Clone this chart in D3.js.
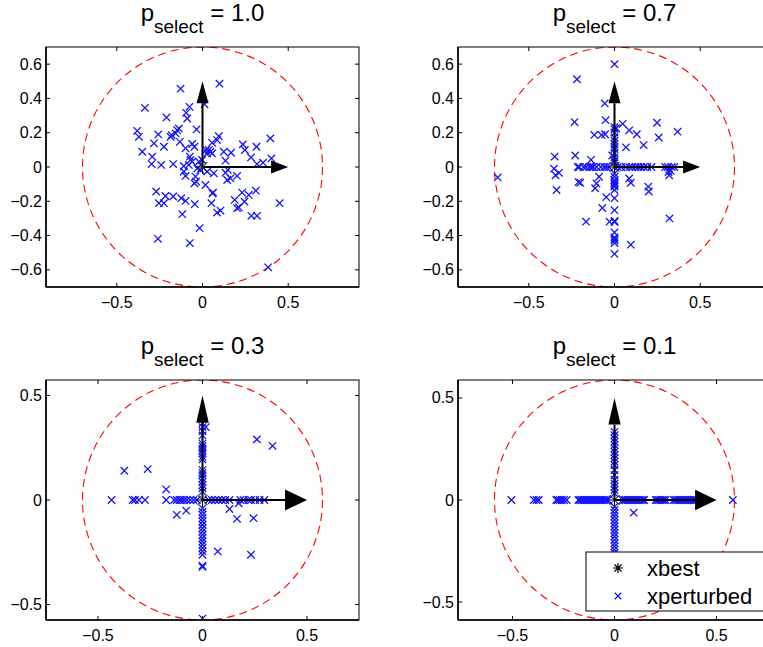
<!DOCTYPE html>
<html><head><meta charset="utf-8">
<script src="https://cdn.jsdelivr.net/npm/d3@7"></script>
<style>body{margin:0;background:#fff}svg{display:block}</style>
</head><body>
<script>
// ---------------- data ----------------
const titles = ["1.0", "0.7", "0.3", "0.1"];
const radius = [0.7, 0.7, 0.574, 0.588];
const xTicks = [-0.5, 0, 0.5];
const yTicksTop = [-0.6, -0.4, -0.2, 0, 0.2, 0.4, 0.6];
const yTicksBottom = [-0.5, 0, 0.5];
const arrowLen = 0.5;
const legendLabels = ["xbest", "xperturbed"];

// p_select = 1.0 : perturbed points
const p1Points = [[-0.128,0.457],[0.099,0.486],[-0.336,0.345],[-0.076,0.351],[-0.095,0.316],[-0.089,0.283],[0.012,0.366],[-0.21,0.289],[-0.381,0.211],[-0.371,0.176],[-0.258,0.19],[-0.148,0.215],[-0.138,0.225],[-0.157,0.196],[-0.186,0.176],[-0.18,0.186],[-0.035,0.219],[0.095,0.18],[0.085,0.157],[-0.283,0.138],[-0.225,0.118],[-0.132,0.147],[-0.06,0.134],[-0.047,0.118],[-0.099,0.109],[-0.351,0.089],[-0.293,0.06],[-0.297,0.017],[-0.241,0.012],[-0.171,0.017],[-0.074,0.06],[-0.07,0.041],[-0.08,0.012],[-0.109,0.006],[-0.06,0.031],[-0.109,-0.027],[-0.099,-0.052],[0.021,0.099],[0.047,0.089],[0.056,0.079],[0.027,0.079],[0.037,0.099],[0.056,0.141],[0.124,0.089],[0.167,0.083],[0.235,0.132],[0.247,0.099],[0.315,0.118],[0.396,0.167],[0.283,0.056],[0.402,0.05],[0.318,0.017],[0.353,0.025],[0.134,0.037],[0.148,-0.017],[0.134,-0.033],[0.144,-0.076],[0.163,-0.066],[0.202,-0.052],[0.066,-0.037],[-0.041,-0.056],[-0.047,-0.095],[-0.037,-0.085],[0.017,-0.105],[0.058,-0.153],[0.062,-0.149],[-0.27,-0.143],[-0.216,-0.169],[-0.171,-0.172],[-0.124,-0.182],[-0.099,-0.198],[-0.254,-0.211],[-0.225,-0.211],[-0.045,-0.217],[0.052,-0.211],[-0.118,-0.275],[0.085,-0.266],[0.105,-0.254],[0.188,-0.192],[0.202,-0.24],[0.212,-0.236],[0.231,-0.149],[0.245,-0.202],[0.27,-0.163],[0.311,-0.138],[0.285,-0.285],[0.318,-0.285],[0.45,-0.211],[-0.017,-0.357],[-0.26,-0.419],[-0.074,-0.444],[0.383,-0.585],[-0.021,0.031],[-0.03,-0.008],[-0.012,-0.017],[0.027,-0.027],[-0.002,0.041]];

// p_select = 0.7
const p2Points = [[0,0.6],[-0.219,0.512],[-0.057,0.371],[-0.052,0.273],[-0.233,0.262],[0.048,0.252],[0.086,0.214],[0.248,0.258],[0.258,0.172],[0.368,0.206],[0.13,0.191],[-0.118,0.187],[-0.076,0.187],[-0.055,0.191],[0.067,0.115],[0.17,0.128],[-0.229,0.067],[-0.349,0.061],[-0.353,-0.01],[-0.344,-0.048],[-0.324,-0.034],[-0.338,-0.134],[-0.681,-0.061],[-0.2,-0.092],[-0.21,-0.088],[-0.105,-0.096],[-0.113,-0.124],[-0.09,-0.057],[0.086,-0.067],[0.095,-0.092],[0.197,-0.115],[0.2,-0.143],[0.315,-0.029],[0.319,-0.048],[0.328,-0.023],[-0.048,-0.176],[-0.071,-0.239],[-0.029,-0.319],[-0.166,-0.319],[0.095,-0.453],[0.321,-0.3],[-0.137,0.042],[0.01,0.226],[-0.013,0.067]];
const p2XAxis = [-0.214,-0.206,-0.181,-0.166,-0.147,-0.134,-0.124,-0.105,-0.08,-0.061,-0.048,-0.032,0.019,0.038,0.067,0.086,0.101,0.124,0.139,0.153,0.172,0.191,0.216,0.296,0.311,0.334,0.349];
const p2YAxis = [0.233,0.22,0.201,0.172,0.153,0.134,0.119,0.105,0.08,0.057,0.042,0.029,-0.038,-0.057,-0.076,-0.086,-0.096,-0.105,-0.115,-0.134,-0.182,-0.252,-0.315,-0.321,-0.382,-0.41,-0.42,-0.43,-0.444,-0.507];

// p_select = 0.3
const p3Points = [[0.26,0.29],[0.335,0.259],[-0.374,0.14],[-0.262,0.148],[-0.174,0.051],[0.165,-0.09],[0.244,-0.087],[0.129,-0.043],[0.173,-0.016],[-0.123,-0.071],[-0.078,-0.051],[0.073,-0.246],[0.232,-0.262],[0.016,0.349]];
const p3XAxis = [-0.435,-0.334,-0.323,-0.304,-0.275,-0.174,-0.136,-0.123,-0.11,-0.099,-0.088,-0.075,-0.059,-0.043,-0.027,0.029,0.045,0.061,0.077,0.093,0.109,0.129,0.181,0.196,0.22,0.232,0.252,0.273,0.296];
const p3YAxis = [0.368,0.349,0.33,0.309,0.27,0.257,0.246,0.235,0.222,0.206,0.194,0.143,0.13,0.119,0.103,0.087,0.071,0.056,0.04,-0.04,-0.056,-0.071,-0.087,-0.103,-0.119,-0.135,-0.151,-0.167,-0.183,-0.198,-0.214,-0.23,-0.246,-0.262,-0.314,-0.32,-0.567];

// p_select = 0.1
const p4Points = [[0.094,-0.062],[0.58,0]];
const p4XAxis = [-0.505,-0.395,-0.382,-0.371,-0.285,-0.279,-0.269,-0.258,-0.247,-0.234,-0.177,-0.169,-0.161,-0.153,-0.145,-0.137,-0.129,-0.121,-0.113,-0.105,-0.097,-0.089,-0.081,-0.073,-0.065,-0.056,-0.048,-0.04,-0.032,0.04,0.048,0.056,0.065,0.073,0.081,0.089,0.097,0.105,0.113,0.121,0.129,0.137,0.145,0.202,0.21,0.218,0.226,0.234,0.242,0.25,0.29,0.298,0.306,0.315,0.323,0.331,0.339,0.347,0.355,0.363,0.371,0.379,0.387,0.395];
const p4YAxis = [0.334,0.318,0.301,0.285,0.269,0.252,0.236,0.22,0.204,0.187,0.171,0.147,0.122,0.098,0.081,0.065,0.049,0.033,-0.033,-0.049,-0.065,-0.081,-0.098,-0.114,-0.13,-0.147,-0.163,-0.179,-0.195,-0.212,-0.228,-0.244,-0.26];

// ---------------- build ----------------
const build = (pts, xs, ys) => pts.concat(xs.map(v => [v, 0]), ys.map(v => [0, v]));
const panelData = [
  build(p1Points, [], []),
  build(p2Points, p2XAxis, p2YAxis),
  build(p3Points, p3XAxis, p3YAxis),
  build(p4Points, p4XAxis, p4YAxis)
];
const yTickSets = [yTicksTop, yTicksTop, yTicksBottom, yTicksBottom];

const W = 763, H = 647;
const PW = 313, PH = 240;
const origins = [[46, 47], [458, 47], [46, 380], [458, 380]];
const FONT = "'Liberation Sans', Arial, Helvetica, sans-serif";
// arrow head sizes (data units): [horizontal len, horizontal half width, vertical len, vertical half width]
const headStyle = [[0.1, 0.038, 0.128, 0.035], [0.1, 0.038, 0.128, 0.035], [0.105, 0.05, 0.13, 0.03], [0.105, 0.05, 0.13, 0.03]];

const svg = d3.select("body").append("svg").attr("width", W).attr("height", H)
  .style("font-family", FONT);

const fmt = v => v === 0 ? "0" : (v < 0 ? "\u2212" : "") + Math.abs(v).toFixed(1);
const xMark = "M-3.7,-3.7L3.7,3.7M-3.7,3.7L3.7,-3.7";

panelData.forEach((data, i) => {
  const [x0, y0] = origins[i];
  const r = radius[i];
  const half = r * PW / PH;
  const x = d3.scaleLinear().domain([-half, half]).range([x0, x0 + PW]);
  const y = d3.scaleLinear().domain([-r, r]).range([y0 + PH, y0]);
  const g = svg.append("g");

  const clipId = "clip" + i;
  svg.append("clipPath").attr("id", clipId).append("rect")
    .attr("x", x0).attr("y", y0).attr("width", PW).attr("height", PH);
  const plot = g.append("g").attr("clip-path", `url(#${clipId})`);

  // dashed circle
  plot.append("circle").attr("cx", x(0)).attr("cy", y(0)).attr("r", x(r) - x(0))
    .attr("fill", "none").attr("stroke", "#ff0000").attr("stroke-width", 1.1)
    .attr("stroke-dasharray", "8,5");

  // perturbed points
  plot.selectAll("path.pt").data(data).join("path").attr("class", "pt")
    .attr("d", xMark).attr("transform", d => `translate(${x(d[0])},${y(d[1])})`)
    .attr("fill", "none").attr("stroke", "#1414ff").attr("stroke-width", 1.3);

  // arrows
  const [hl, hw, vl, vw] = headStyle[i];
  plot.append("line").attr("x1", x(0)).attr("y1", y(0)).attr("x2", x(arrowLen - hl)).attr("y2", y(0))
    .attr("stroke", "#000").attr("stroke-width", 2);
  plot.append("path").attr("d", `M${x(arrowLen)},${y(0)}L${x(arrowLen - hl)},${y(hw)}L${x(arrowLen - hl)},${y(-hw)}Z`)
    .attr("fill", "#000");
  plot.append("line").attr("x1", x(0)).attr("y1", y(0)).attr("x2", x(0)).attr("y2", y(arrowLen - vl))
    .attr("stroke", "#000").attr("stroke-width", 2);
  plot.append("path").attr("d", `M${x(0)},${y(arrowLen)}L${x(-vw)},${y(arrowLen - vl)}L${x(vw)},${y(arrowLen - vl)}Z`)
    .attr("fill", "#000");

  // xbest asterisk
  plot.append("path").attr("transform", `translate(${x(0)},${y(0)})`)
    .attr("d", "M-7,0L7,0M0,-7L0,7M-5,-5L5,5M-5,5L5,-5")
    .attr("stroke", "#000").attr("stroke-width", 1).attr("fill", "none");

  // axes box
  g.append("rect").attr("x", x0).attr("y", y0).attr("width", PW).attr("height", PH)
    .attr("fill", "none").attr("stroke", "#000").attr("stroke-width", 1);
  g.append("line").attr("x1", x0).attr("x2", x0).attr("y1", y0).attr("y2", y0 + PH).attr("stroke", "#000").attr("stroke-width", 1.6);
  g.append("line").attr("x1", x0).attr("x2", x0 + PW).attr("y1", y0 + PH).attr("y2", y0 + PH).attr("stroke", "#000").attr("stroke-width", 1.6);

  const TL = 4;
  // x ticks
  xTicks.forEach(t => {
    const px = x(t);
    g.append("line").attr("x1", px).attr("x2", px).attr("y1", y0 + PH).attr("y2", y0 + PH - TL).attr("stroke", "#000");
    g.append("line").attr("x1", px).attr("x2", px).attr("y1", y0).attr("y2", y0 + TL).attr("stroke", "#000");
    g.append("text").attr("x", px).attr("y", y0 + PH + 21).attr("text-anchor", "middle")
      .attr("font-size", 16).text(fmt(t));
  });
  // y ticks
  yTickSets[i].forEach(t => {
    const py = y(t);
    g.append("line").attr("x1", x0).attr("x2", x0 + TL).attr("y1", py).attr("y2", py).attr("stroke", "#000");
    g.append("line").attr("x1", x0 + PW).attr("x2", x0 + PW - TL).attr("y1", py).attr("y2", py).attr("stroke", "#000");
    g.append("text").attr("x", x0 - 4).attr("y", py + 5.5).attr("text-anchor", "end")
      .attr("font-size", 16).text(fmt(t));
  });

  // title
  const t = g.append("text").attr("x", x0 + PW / 2).attr("y", y0 - 26)
    .attr("text-anchor", "middle").attr("font-size", 24);
  t.append("tspan").text("p");
  t.append("tspan").attr("font-size", 19).attr("dy", 12).text("select");
  t.append("tspan").attr("dy", -12).text(" = " + titles[i]);
});

// legend
const lg = svg.append("g");
lg.append("rect").attr("x", 586).attr("y", 552).attr("width", 200).attr("height", 59)
  .attr("fill", "#fff").attr("stroke", "#000").attr("stroke-width", 1);
lg.append("path").attr("transform", "translate(618,568)")
  .attr("d", "M-5,0L5,0M0,-5L0,5M-3.5,-3.5L3.5,3.5M-3.5,3.5L3.5,-3.5")
  .attr("stroke", "#000").attr("stroke-width", 1.2).attr("fill", "none");
lg.append("path").attr("transform", "translate(618,596)").attr("d", "M-3.2,-3.2L3.2,3.2M-3.2,3.2L3.2,-3.2")
  .attr("stroke", "#1414ff").attr("stroke-width", 1.3).attr("fill", "none");
lg.append("text").attr("x", 647).attr("y", 576).attr("font-size", 22).text(legendLabels[0]);
lg.append("text").attr("x", 647).attr("y", 604).attr("font-size", 22).text(legendLabels[1]);
</script>
</body></html>
